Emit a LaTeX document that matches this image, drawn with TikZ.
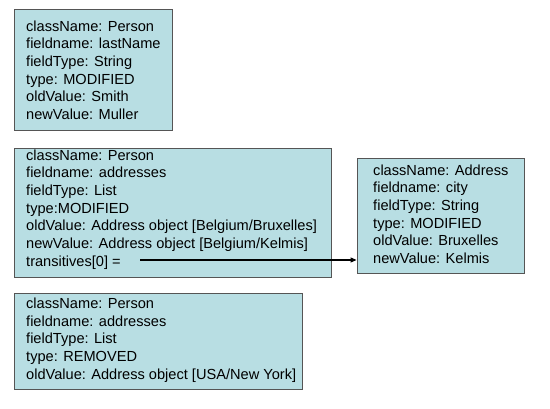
\documentclass[tikz,border=0pt]{standalone}
\usepackage{fontspec}
\setmainfont{Liberation Sans}
\usetikzlibrary{arrows.meta}
\definecolor{boxfill}{RGB}{184,222,227}
\definecolor{boxline}{RGB}{85,85,85}
\begin{document}
\begin{tikzpicture}[x=1pt,y=1pt,
  box/.style={draw=boxline,fill=boxfill,line width=0.9pt,rectangle,inner sep=0pt},
  txt/.style={anchor=north west,align=left,inner sep=0pt,font=\fontsize{14.6}{17.7}\selectfont}]
\useasboundingbox (0,0) rectangle (550,409);
\fill[white] (0,0) rectangle (550,409);
% box 1
\node[box,minimum width=158pt,minimum height=121pt] (b1) at (93,339.5) {};
\node[txt] (t1) at (26,388.6) {className: Person\\fieldname: lastName\\fieldType: String\\type: MODIFIED\\oldValue: Smith\\newValue: Muller};
% box 2
\node[box,minimum width=317pt,minimum height=129pt] (b2) at (172.5,196.5) {};
\node[txt] (t2) at (26,259.6) {className: Person\\fieldname: addresses\\fieldType: List\\type:MODIFIED\\oldValue: Address object [Belgium/Bruxelles]\\newValue: Address object [Belgium/Kelmis]\\transitives[0] =};
% box 3
\node[box,minimum width=167pt,minimum height=115pt] (b3) at (440.5,193.5) {};
\node[txt] (t3) at (373,244.6) {className: Address\\fieldname: city\\fieldType: String\\type: MODIFIED\\oldValue: Bruxelles\\newValue: Kelmis};
% box 4
\node[box,minimum width=288pt,minimum height=96pt] (b4) at (158,68) {};
\node[txt] (t4) at (26,111.3) {className: Person\\fieldname: addresses\\fieldType: List\\type: REMOVED\\oldValue: Address object [USA/New York]};
% arrow
\coordinate (a0) at (140,149);
\draw[line width=1.1pt,-{Triangle[length=6pt,width=5pt]}] (a0) -- (a0 -| b3.west);
\end{tikzpicture}
\end{document}
